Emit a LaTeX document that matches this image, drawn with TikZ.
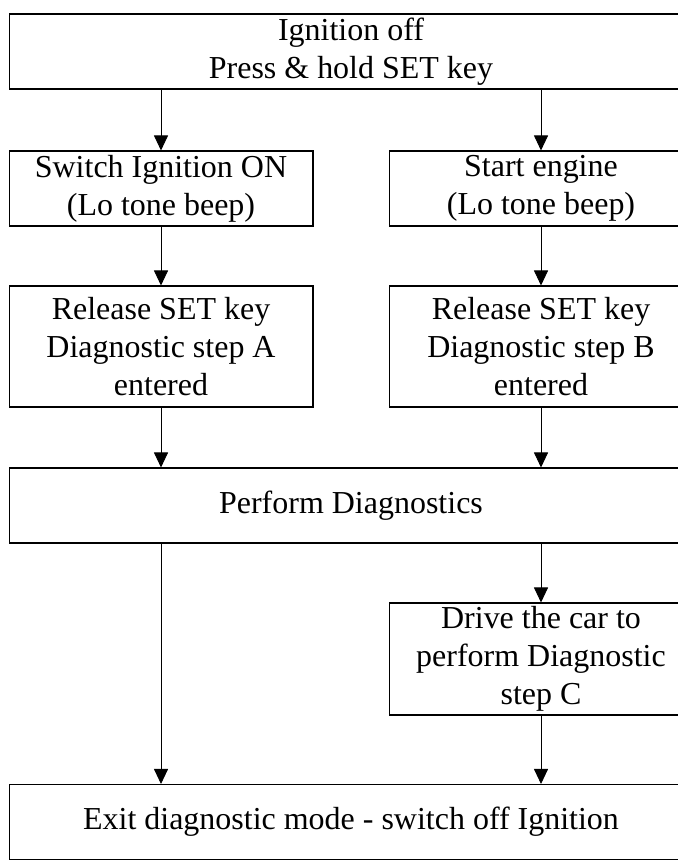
\documentclass[tikz,border=0pt]{standalone}
\usepackage{fontspec}
\setmainfont{Liberation Serif}
\usetikzlibrary{arrows.meta, positioning}

\begin{document}
\begin{tikzpicture}[x=0.02cm, y=-0.02cm,
    blk/.style={draw, line width=0.6pt, align=center, inner sep=0pt,
      font=\fontsize{18.2}{21.6}\selectfont},
    wide/.style={blk, minimum width=13.68cm, minimum height=1.5cm},
    half/.style={blk, minimum width=6.08cm},
    arr/.style={-{Triangle[length=0.3cm, width=0.28cm]}, line width=0.5pt}]
    \useasboundingbox (0,0) rectangle (678,861);
    \clip (0,0) rectangle (678,861);
    \node[wide] (off) at (351,51.5) {Ignition off\\Press \& hold SET key};
    \node[half, minimum height=1.5cm] (ign) at (161,188.5) {Switch Ignition ON\\(Lo tone beep)};
    \node[half, minimum height=1.5cm] (eng) at (541,188.5) {Start engine\\(Lo tone beep)};
    \node[half, minimum height=2.42cm] (relA) at (161,346.5) {Release SET key\\Diagnostic step A\\entered};
    \node[half, minimum height=2.42cm] (relB) at (541,346.5) {Release SET key\\Diagnostic step B\\entered};
    \node[wide] (diag) at (351,505.5) {Perform Diagnostics};
    \node[half, minimum height=2.24cm] (drive) at (541,659) {Drive the car to\\perform Diagnostic\\step C};
    \node[wide] (exit) at (351,822) {Exit diagnostic mode - switch off Ignition};
    \draw[arr] (off.south -| ign) -- (ign.north);
    \draw[arr] (off.south -| eng) -- (eng.north);
    \draw[arr] (ign.south) -- (relA.north);
    \draw[arr] (eng.south) -- (relB.north);
    \draw[arr] (relA.south) -- (diag.north -| relA);
    \draw[arr] (relB.south) -- (diag.north -| relB);
    \draw[arr] (diag.south -| drive) -- (drive.north);
    \draw[arr] (diag.south -| relA) -- (exit.north -| relA);
    \draw[arr] (drive.south) -- (exit.north -| drive);
\end{tikzpicture}
\end{document}
